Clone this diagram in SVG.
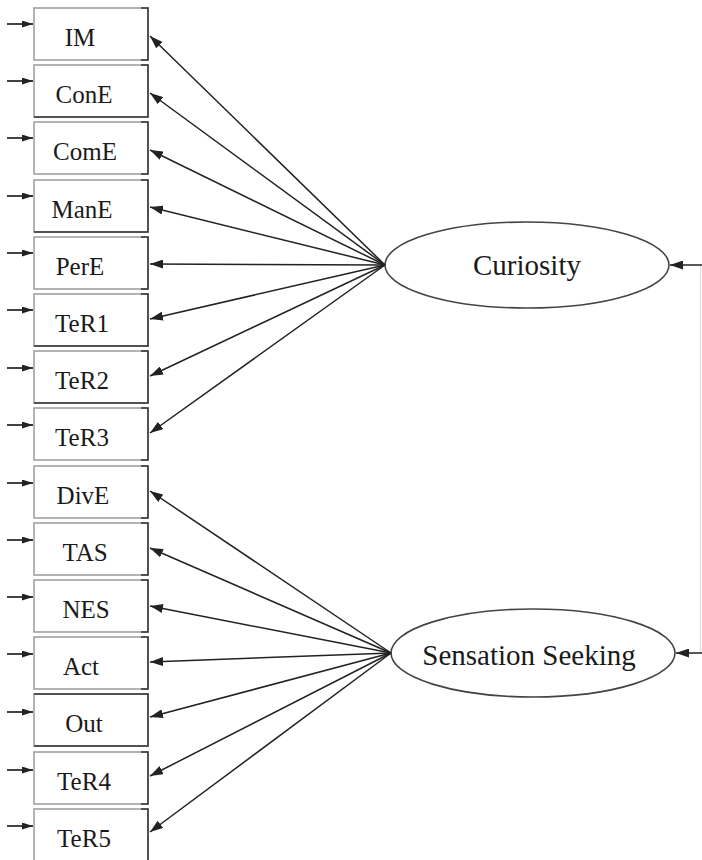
<svg xmlns="http://www.w3.org/2000/svg" width="702" height="860" viewBox="0 0 702 860">
  <style>
    .box { fill: #ffffff; stroke: #9a9a9a; stroke-width: 1.5; }
    .edge { fill: none; stroke: #333333; stroke-width: 1.5; }
    .lbl { font-family: "Liberation Serif", "Times New Roman", serif; font-size: 25px; fill: #1a1a1a; text-anchor: middle; }
    .lat { fill: #ffffff; stroke: #444444; stroke-width: 1.6; }
    .latlbl { font-family: "Liberation Serif", "Times New Roman", serif; font-size: 29px; fill: #1a1a1a; text-anchor: middle; }
    .path { fill: none; stroke: #222222; stroke-width: 1.5; marker-end: url(#arr); }
    .err { fill: none; stroke: #222222; stroke-width: 1.7; marker-end: url(#arrS); }
  </style>
  <defs>
    <marker id="arr" viewBox="0 0 13 9" refX="13" refY="4.5" markerWidth="13" markerHeight="9" markerUnits="userSpaceOnUse" orient="auto">
      <path d="M0,0 L13,4.5 L0,9 Z" fill="#222222"/>
    </marker>
    <marker id="arrS" viewBox="0 0 11 7" refX="11" refY="3.5" markerWidth="11" markerHeight="7" markerUnits="userSpaceOnUse" orient="auto">
      <path d="M0,0 L11,3.5 L0,7 Z" fill="#222222"/>
    </marker>
  </defs>
  <rect width="702" height="860" fill="#ffffff"/>

  <!-- observed indicators -->
  <g id="IM"><rect class="box" x="34" y="8" width="114" height="52"/><path class="edge" d="M141,8 H148 V60 H141"/><text class="lbl" x="80" y="46">IM</text></g>
  <g id="ConE"><rect class="box" x="34" y="65" width="114" height="52"/><path class="edge" d="M141,65 H148 V117 H34"/><text class="lbl" x="84" y="103">ConE</text></g>
  <g id="ComE"><rect class="box" x="34" y="122" width="114" height="52"/><path class="edge" d="M141,122 H148 V174 H141"/><text class="lbl" x="85" y="160">ComE</text></g>
  <g id="ManE"><rect class="box" x="34" y="180" width="114" height="52"/><path class="edge" d="M141,180 H148 V232 H34"/><text class="lbl" x="82" y="218">ManE</text></g>
  <g id="PerE"><rect class="box" x="34" y="237" width="114" height="52"/><path class="edge" d="M141,237 H148 V289 H141"/><text class="lbl" x="80" y="275">PerE</text></g>
  <g id="TeR1"><rect class="box" x="34" y="294" width="114" height="52"/><path class="edge" d="M141,294 H148 V346 H34"/><text class="lbl" x="82" y="332">TeR1</text></g>
  <g id="TeR2"><rect class="box" x="34" y="351" width="114" height="52"/><path class="edge" d="M141,351 H148 V403 H34"/><text class="lbl" x="82" y="389">TeR2</text></g>
  <g id="TeR3"><rect class="box" x="34" y="408" width="114" height="52"/><path class="edge" d="M141,408 H148 V460 H141"/><text class="lbl" x="82" y="446">TeR3</text></g>
  <g id="DivE"><rect class="box" x="34" y="466" width="114" height="52"/><path class="edge" d="M141,466 H148 V518 H141"/><text class="lbl" x="83" y="504">DivE</text></g>
  <g id="TAS"><rect class="box" x="34" y="523" width="114" height="52"/><path class="edge" d="M141,523 H148 V575 H141"/><text class="lbl" x="85" y="561">TAS</text></g>
  <g id="NES"><rect class="box" x="34" y="580" width="114" height="52"/><path class="edge" d="M141,580 H148 V632 H141"/><text class="lbl" x="86" y="618">NES</text></g>
  <g id="Act"><rect class="box" x="34" y="637" width="114" height="52"/><path class="edge" d="M141,637 H148 V689 H141"/><text class="lbl" x="81" y="675">Act</text></g>
  <g id="Out"><rect class="box" x="34" y="694" width="114" height="52"/><path class="edge" d="M34,694 H148 V746 H34"/><text class="lbl" x="84" y="732">Out</text></g>
  <g id="TeR4"><rect class="box" x="34" y="752" width="114" height="52"/><path class="edge" d="M141,752 H148 V804 H141"/><text class="lbl" x="84" y="790">TeR4</text></g>
  <g id="TeR5"><rect class="box" x="34" y="809" width="114" height="52"/><path class="edge" d="M141,809 H148 V861"/><text class="lbl" x="84" y="847">TeR5</text></g>

  <!-- latent factors -->
  <g id="Curiosity"><ellipse class="lat" cx="527" cy="265" rx="142" ry="43"/><text class="latlbl" x="527" y="275">Curiosity</text></g>
  <g id="SensationSeeking"><ellipse class="lat" cx="533" cy="653" rx="142" ry="44"/><text class="latlbl" x="529" y="665">Sensation Seeking</text></g>

  <g id="connectors">
    <!-- loadings: Curiosity -->
    <path class="path" d="M385,265 L150,36"/>
    <path class="path" d="M385,265 L150,93"/>
    <path class="path" d="M385,265 L150,150"/>
    <path class="path" d="M385,265 L150,207"/>
    <path class="path" d="M385,265 L150,264"/>
    <path class="path" d="M385,265 L150,319"/>
    <path class="path" d="M385,265 L150,376"/>
    <path class="path" d="M385,265 L150,433"/>
    <!-- loadings: Sensation Seeking -->
    <path class="path" d="M391,653 L150,491"/>
    <path class="path" d="M391,653 L150,548"/>
    <path class="path" d="M391,653 L150,606"/>
    <path class="path" d="M391,653 L150,662"/>
    <path class="path" d="M391,653 L150,717"/>
    <path class="path" d="M391,653 L150,776"/>
    <path class="path" d="M391,653 L150,832"/>
    <!-- error terms -->
    <path class="err" d="M7,24 L33,24"/>
    <path class="err" d="M7,81 L33,81"/>
    <path class="err" d="M7,138 L33,138"/>
    <path class="err" d="M7,196 L33,196"/>
    <path class="err" d="M7,253 L33,253"/>
    <path class="err" d="M7,310 L33,310"/>
    <path class="err" d="M7,368 L33,368"/>
    <path class="err" d="M7,425 L33,425"/>
    <path class="err" d="M7,483 L33,483"/>
    <path class="err" d="M7,540 L33,540"/>
    <path class="err" d="M7,597 L33,597"/>
    <path class="err" d="M7,654 L33,654"/>
    <path class="err" d="M7,712 L33,712"/>
    <path class="err" d="M7,770 L33,770"/>
    <path class="err" d="M7,826 L33,826"/>
    <!-- factor covariance leads -->
    <path d="M700.5,265 V653" fill="none" stroke="#dcdcdc" stroke-width="1.2"/>
    <path class="path" d="M702,265 L670,265"/>
    <path class="path" d="M702,653 L676,653"/>
  </g>
</svg>
